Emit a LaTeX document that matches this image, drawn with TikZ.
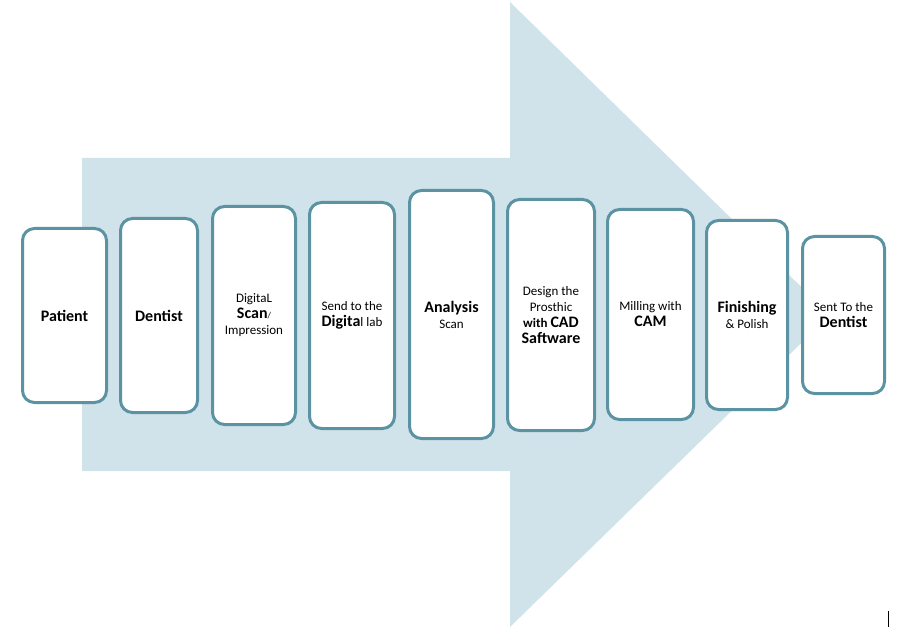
\documentclass[tikz,border=0pt]{standalone}
\usepackage{fontspec}
\setmainfont{Carlito}
\definecolor{arrowfill}{HTML}{D0E2EA}
\definecolor{boxline}{HTML}{5B93A3}
% text sizes: small regular lines and large bold keywords, common 16pt line pitch
\newcommand{\smtxt}{\fontsize{13}{16}\selectfont}
\newcommand{\bigtxt}{\fontsize{16}{16}\selectfont\bfseries}
\newcommand{\tinytxt}{\fontsize{9}{16}\selectfont}
\begin{document}
\begin{tikzpicture}[x=1pt,y=-1pt,
  stage/.style={draw=boxline, line width=3pt, fill=white, rounded corners=12pt,
    align=center, font=\smtxt, text=black, inner sep=0pt}]
\useasboundingbox (0,0) rectangle (903,631);

% large background arrow showing the workflow direction
\fill[arrowfill] (82,158) -- (510,158) -- (510,2) -- (830,315)
  -- (510,627) -- (510,471) -- (82,471) -- cycle;

% workflow stages
\node[stage, minimum width=84pt, minimum height=174pt] (patient) at (64.5,315.5)
  {{\bigtxt Patient}};
\node[stage, minimum width=77pt, minimum height=194pt] (dentist) at (159,315.5)
  {{\bigtxt Dentist}};
\node[stage, minimum width=83pt, minimum height=218pt] (scan) at (254,315.5)
  {DigitaL\\{\bigtxt Scan}{\tinytxt /}\\Impression};
\node[stage, minimum width=85pt, minimum height=226pt] (send) at (352,315.5)
  {Send to the\\{\bigtxt Digita}l lab};
\node[stage, minimum width=84pt, minimum height=248pt] (analysis) at (451.5,314.5)
  {{\bigtxt Analysis}\\Scan};
\node[stage, minimum width=87pt, minimum height=231pt] (design) at (551,315)
  {Design the\\Prosthic\\{\bfseries with} {\bigtxt CAD}\\{\bigtxt Saftware}};
\node[stage, minimum width=86pt, minimum height=210pt] (milling) at (650.5,314.5)
  {Milling with\\{\bigtxt CAM}};
\node[stage, minimum width=81pt, minimum height=189pt] (finishing) at (747,315)
  {{\bigtxt Finishing}\\\& Polish};
\node[stage, minimum width=82pt, minimum height=157pt] (sent) at (843.5,315)
  {Sent To the\\{\bigtxt Dentist}};

% small text cursor mark in the lower right corner
\coordinate (cursorTop) at (888,611);
\coordinate (cursorBot) at (888,627);
\draw[line width=1pt, black] (cursorTop) -- (cursorBot);
\end{tikzpicture}
\end{document}
